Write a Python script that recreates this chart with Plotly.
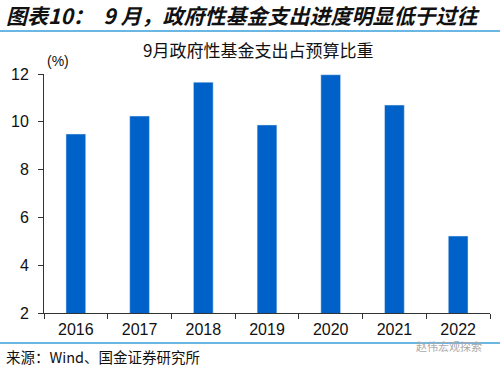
import plotly.graph_objects as go

years = ["2016", "2017", "2018", "2019", "2020", "2021", "2022"]
values = [9.49, 10.24, 11.66, 9.87, 11.97, 10.70, 5.22]
y_ticks = [2, 4, 6, 8, 10, 12]

W, H = 500, 368
L, R, T, B = 44, 490, 74, 313

def px(x):
    return (x - L) / (R - L)

def py(y):
    return (B - y) / (B - T)

fig = go.Figure(go.Bar(x=years, y=values, marker_color="#0062C9", width=0.31))

fig.update_layout(
    width=W, height=H,
    margin=dict(l=L, r=W - R, t=T, b=H - B),
    plot_bgcolor="white", paper_bgcolor="white",
    showlegend=False,
    bargap=0.69,
)
fig.update_yaxes(range=[2, 12], tickvals=y_ticks, showgrid=False, zeroline=False,
                 showline=True, linecolor="#333", linewidth=1,
                 ticks="outside", ticklen=5, tickcolor="#333", ticklabelstandoff=6,
                 tickfont=dict(family="Liberation Sans, Arial", size=16, color="#111"))
fig.update_xaxes(showgrid=False, showline=True, linecolor="#333", linewidth=1,
                 ticks="outside", ticklen=5, tickcolor="#333", tickson="boundaries",
                 ticklabelstandoff=2,
                 tickfont=dict(family="Liberation Sans, Arial", size=16, color="#111"))

line_col = "#3A9FDB"
fig.add_shape(type="line", xref="paper", yref="paper", x0=px(0), x1=px(500), y0=py(31), y1=py(31),
              line=dict(color=line_col, width=1.5))
fig.add_shape(type="line", xref="paper", yref="paper", x0=px(0), x1=px(500), y0=py(343), y1=py(343),
              line=dict(color=line_col, width=1.5))

fig.add_annotation(text="<b><i>图表10：  9 月，政府性基金支出进度明显低于过往</i></b>",
                   xref="paper", yref="paper", x=px(4), y=py(15), xanchor="left", yanchor="middle",
                   showarrow=False, font=dict(family="Noto Sans CJK SC", size=21, color="#111"))
fig.add_annotation(text="9月政府性基金支出占预算比重",
                   xref="paper", yref="paper", x=px(258), y=py(50), xanchor="center", yanchor="middle",
                   showarrow=False, font=dict(family="Noto Sans CJK SC", size=17, color="#111"))
fig.add_annotation(text="(%)",
                   xref="paper", yref="paper", x=px(58), y=py(61), xanchor="center", yanchor="middle",
                   showarrow=False, font=dict(family="Liberation Sans, Arial", size=14, color="#111"))
fig.add_annotation(text="来源：Wind、国金证券研究所",
                   xref="paper", yref="paper", x=px(4), y=py(356), xanchor="left", yanchor="middle",
                   showarrow=False, font=dict(family="Noto Sans CJK SC", size=14.5, color="#111"))
fig.add_annotation(text="赵伟宏观探索",
                   xref="paper", yref="paper", x=px(484), y=py(346), xanchor="right", yanchor="middle",
                   showarrow=False, font=dict(family="Noto Sans CJK SC", size=11, color="#aaaaaa"))

fig.write_html("out.html")
